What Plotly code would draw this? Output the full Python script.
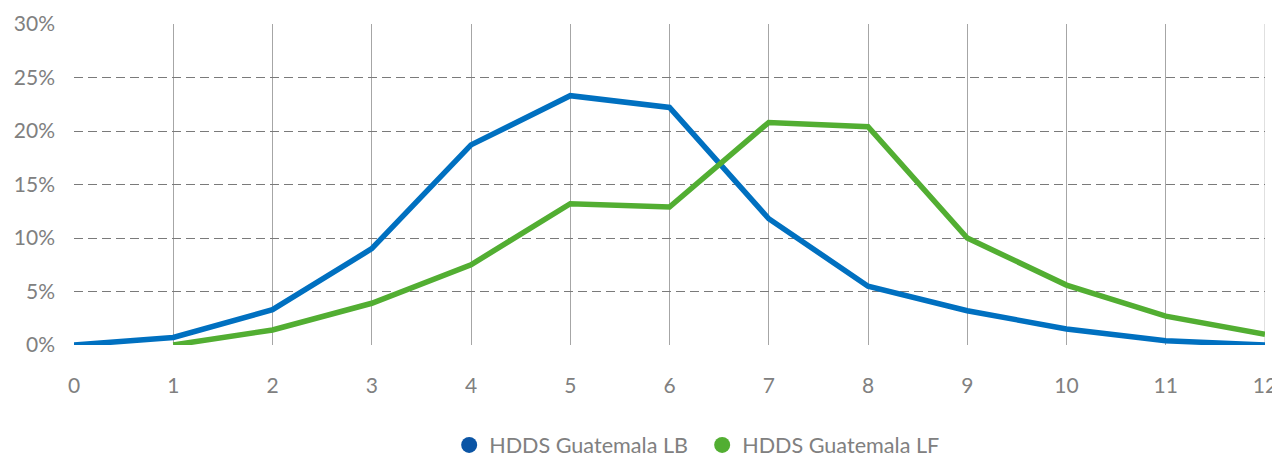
import plotly.graph_objects as go

x_vals = list(range(0, 13))
lb_vals = [0.0, 0.7, 3.3, 9.0, 18.7, 23.3, 22.2, 11.8, 5.5, 3.2, 1.5, 0.4, 0.0]
lf_x = list(range(1, 13))
lf_vals = [0.0, 1.4, 3.9, 7.5, 13.2, 12.9, 20.8, 20.4, 10.0, 5.6, 2.7, 1.0]
y_ticks = [0, 5, 10, 15, 20, 25, 30]
y_tick_text = [f"{v}%" for v in y_ticks]

blue_line = "#0070C0"
green_line = "#52AE32"
blue_leg = "#0B55A5"
green_leg = "#52AE32"
font_fam = "Lato, 'Open Sans', sans-serif"

fig = go.Figure()
fig.add_trace(go.Scatter(x=x_vals, y=lb_vals, mode="lines", line=dict(color=blue_line, width=5.5),
                         showlegend=False, cliponaxis=False, name="HDDS Guatemala LB"))
fig.add_trace(go.Scatter(x=lf_x, y=lf_vals, mode="lines", line=dict(color=green_line, width=5.5),
                         showlegend=False, cliponaxis=False, name="HDDS Guatemala LF"))
fig.add_trace(go.Scatter(x=[None], y=[None], mode="markers", name="HDDS Guatemala LB",
                         marker=dict(color=blue_leg, size=20, symbol="circle")))
fig.add_trace(go.Scatter(x=[None], y=[None], mode="markers", name="HDDS Guatemala LF",
                         marker=dict(color=green_leg, size=20, symbol="circle")))

fig.update_layout(
    width=1272, height=450,
    margin=dict(l=66, r=15, t=16, b=113),
    plot_bgcolor="white", paper_bgcolor="white",
    font=dict(family=font_fam, size=21, color="#808080"),
    showlegend=True,
    legend=dict(orientation="h", x=0.315, xanchor="left", xref="paper",
                y=0.028, yanchor="middle", yref="container",
                font=dict(size=21.6, color="#808080"), itemsizing="trace",
                entrywidth=208, entrywidthmode="pixels"),
    xaxis=dict(range=[0, 12], tickmode="array", tickvals=x_vals, ticktext=[str(v) for v in x_vals],
               showgrid=True, gridcolor="#A6A6A6", gridwidth=1, zeroline=False,
               showline=False, ticks="", ticklabelstandoff=26, automargin=False),
    yaxis=dict(range=[0, 30], tickmode="array", tickvals=y_ticks, ticktext=y_tick_text,
               showgrid=True, gridcolor="#7A7A7A", gridwidth=1.2, griddash="9px,5px",
               zeroline=False, showline=False, ticks="", ticklabelstandoff=18, automargin=False),
)
fig.add_shape(type="line", xref="x", yref="y", x0=12, x1=12, y0=0, y1=30,
              line=dict(color="#C0C0C0", width=1), layer="below")

fig.write_html("out.html")
